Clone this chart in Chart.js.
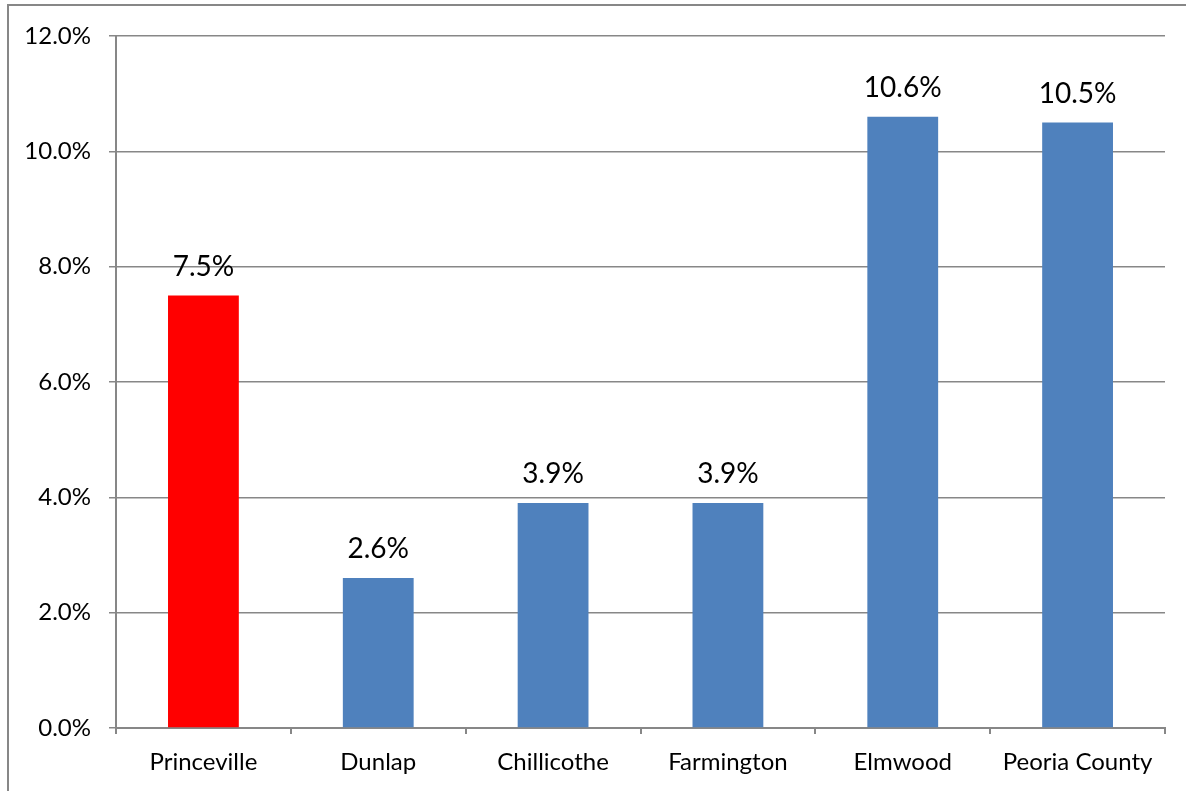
<!DOCTYPE html>
<html>
<head>
<meta charset="utf-8">
<script src="https://cdn.jsdelivr.net/npm/chart.js@4.4.1/dist/chart.umd.min.js"></script>
<style>
  html, body { margin: 0; padding: 0; background: #fff; overflow: hidden; }
  #wrap { position: relative; width: 1186px; height: 791px; }
  #frame {
    position: absolute; left: 7px; top: 4px; width: 1200px; height: 800px;
    border: 2px solid #878787; box-sizing: border-box;
  }
  canvas { position: absolute; left: 0; top: 0; }
</style>
</head>
<body>
<div id="wrap">
  <div id="frame"></div>
  <canvas id="chart" width="1186" height="791"></canvas>
</div>
<script>
const CATEGORIES = ['Princeville', 'Dunlap', 'Chillicothe', 'Farmington', 'Elmwood', 'Peoria County'];
const VALUES = [7.5, 2.6, 3.9, 3.9, 10.6, 10.5];
const BAR_COLORS = ['#FF0000', '#4F81BD', '#4F81BD', '#4F81BD', '#4F81BD', '#4F81BD'];
const Y_MIN = 0;
const Y_MAX = 12;
const Y_STEP = 2;

const FONT = "Lato, 'Open Sans', sans-serif";
const AXIS_GRAY = '#878787';

// Value labels drawn centred above each bar.
const valueLabels = {
  id: 'valueLabels',
  afterDatasetsDraw(chart) {
    const { ctx } = chart;
    const meta = chart.getDatasetMeta(0);
    ctx.save();
    ctx.font = `28px ${FONT}`;
    ctx.fillStyle = '#000';
    ctx.textAlign = 'center';
    ctx.textBaseline = 'alphabetic';
    meta.data.forEach((bar, i) => {
      ctx.fillText(VALUES[i].toFixed(1) + '%', bar.x, bar.y - 20);
    });
    ctx.restore();
  }
};

new Chart(document.getElementById('chart'), {
  type: 'bar',
  data: {
    labels: CATEGORIES,
    datasets: [{
      data: VALUES,
      backgroundColor: BAR_COLORS,
      borderWidth: 0,
      categoryPercentage: 1,
      barPercentage: 0.405
    }]
  },
  options: {
    responsive: false,
    animation: false,
    devicePixelRatio: 1,
    layout: { padding: { left: 0, right: 21, top: 36, bottom: 0 } },
    plugins: { legend: { display: false }, tooltip: { enabled: false } },
    scales: {
      x: {
        grid: {
          offset: true,
          drawOnChartArea: false,
          drawTicks: true,
          tickLength: 6,
          color: AXIS_GRAY,
          lineWidth: 2
        },
        border: { color: AXIS_GRAY, width: 2 },
        ticks: {
          color: '#000',
          padding: 14,
          font: { family: FONT, size: 24 },
          maxRotation: 0
        },
        afterFit(scale) { scale.height = 63; }
      },
      y: {
        min: Y_MIN,
        max: Y_MAX,
        grid: {
          color: AXIS_GRAY,
          lineWidth: 1.5,
          tickLength: 7,
          drawTicks: true
        },
        border: { color: AXIS_GRAY, width: 2 },
        ticks: {
          stepSize: Y_STEP,
          color: '#000',
          padding: 18,
          font: { family: FONT, size: 24 },
          callback: (v) => v.toFixed(1) + '%'
        },
        afterFit(scale) { scale.width = 116; }
      }
    }
  },
  plugins: [valueLabels]
});
</script>
</body>
</html>
